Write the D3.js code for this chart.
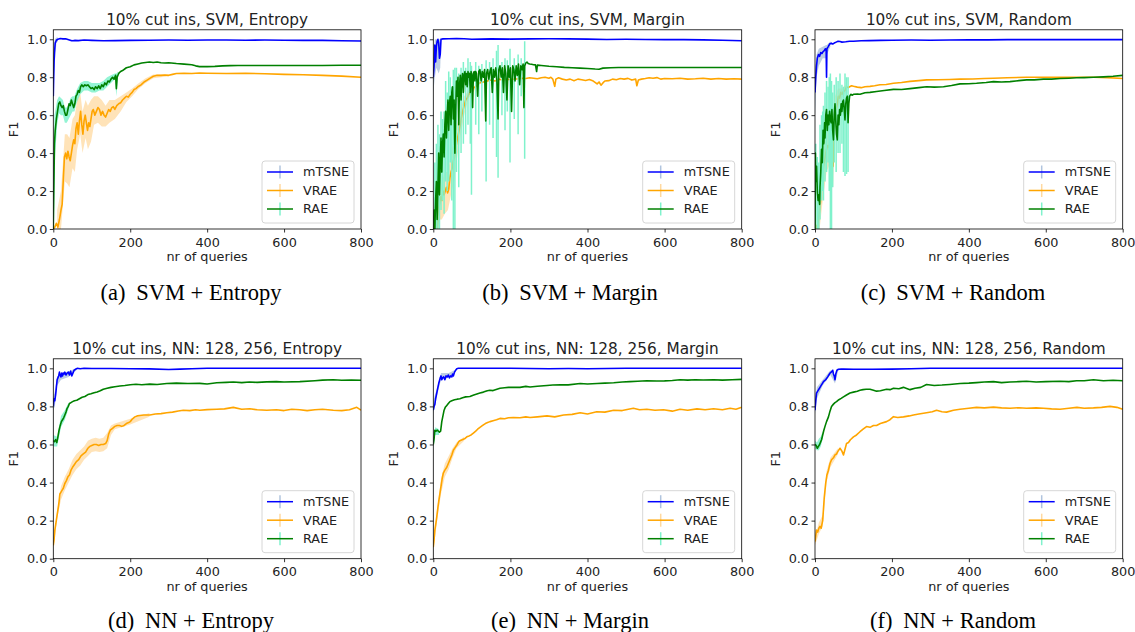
<!DOCTYPE html>
<html><head><meta charset="utf-8">
<script src="https://cdn.jsdelivr.net/npm/d3@7"></script>
<style>body{margin:0;background:#fff}svg{display:block}</style>
</head><body><svg id="c" width="1135" height="632"></svg>
<script>
// ---------------- DATA ----------------
const xTicks = [0, 200, 400, 600, 800];
const yTicks = [0, 0.2, 0.4, 0.6, 0.8, 1.0];
const seriesNames = ["mTSNE", "VRAE", "RAE"];
const panelTitles = ["10% cut ins, SVM, Entropy", "10% cut ins, SVM, Margin", "10% cut ins, SVM, Random",
  "10% cut ins, NN: 128, 256, Entropy", "10% cut ins, NN: 128, 256, Margin", "10% cut ins, NN: 128, 256, Random"];
const captionTags = ["(a)", "(b)", "(c)", "(d)", "(e)", "(f)"];
const captionTexts = ["SVM + Entropy", "SVM + Margin", "SVM + Random", "NN + Entropy", "NN + Margin", "NN + Random"];

// (a) SVM + Entropy
const aMtsne = [[0,0.70],[1,0.80],[2,0.88],[3,0.93],[5,0.98],[8,0.995],[12,1.0],[18,1.004],[25,1.002],[32,1.003],[40,0.998],[48,0.992],[55,0.994],[65,0.993],[80,0.996],[100,0.994],[130,0.992],[160,0.993],[200,0.994],[250,0.995],[300,0.996],[350,0.995],[400,0.996],[450,0.996],[500,0.995],[550,0.996],[600,0.995],[650,0.994],[700,0.994],[750,0.992],[800,0.991]];
const aMtsneErr = [[0,0.55,0.85],[2,0.78,0.98],[4,0.88,1.0],[8,0.98,1.01],[12,0.99,1.01]];
const aVrae = [[0,0.0],[4,0.01],[8,0.03],[12,0.01],[16,0.05],[20,0.1],[23,0.13],[26,0.26],[29,0.38],[32,0.40],[35,0.37],[38,0.41],[41,0.38],[44,0.36],[47,0.40],[50,0.44],[53,0.47],[56,0.45],[59,0.53],[62,0.56],[65,0.50],[68,0.57],[71,0.62],[74,0.55],[77,0.50],[80,0.57],[83,0.60],[86,0.56],[89,0.52],[92,0.56],[95,0.54],[98,0.58],[101,0.62],[104,0.63],[108,0.60],[112,0.62],[116,0.64],[120,0.63],[124,0.60],[128,0.62],[132,0.60],[136,0.59],[140,0.61],[144,0.63],[148,0.62],[152,0.64],[156,0.645],[160,0.63],[165,0.65],[170,0.66],[175,0.665],[180,0.68],[185,0.69],[190,0.70],[195,0.695],[200,0.71],[205,0.72],[210,0.735],[215,0.74],[220,0.75],[228,0.76],[236,0.775],[244,0.785],[252,0.795],[260,0.805],[270,0.81],[280,0.81],[290,0.812],[300,0.81],[310,0.815],[320,0.82],[340,0.821],[360,0.82],[380,0.822],[400,0.821],[450,0.82],[500,0.821],[550,0.818],[600,0.815],[650,0.813],[700,0.81],[750,0.806],[800,0.80]];
const aVraeErr = [[10,0.0,0.1],[20,0.0,0.2],[26,0.15,0.38],[30,0.25,0.5],[36,0.24,0.5],[42,0.22,0.48],[50,0.32,0.58],[56,0.3,0.6],[62,0.42,0.68],[70,0.5,0.72],[76,0.40,0.62],[84,0.48,0.68],[90,0.42,0.65],[98,0.46,0.68],[106,0.55,0.70],[116,0.56,0.70],[126,0.54,0.68],[136,0.54,0.65],[146,0.56,0.68],[160,0.58,0.68],[175,0.62,0.70],[190,0.67,0.72],[205,0.70,0.74],[220,0.735,0.765],[240,0.77,0.795],[260,0.795,0.815],[300,0.805,0.815]];
const aRae = [[0,0.0],[1,0.15],[2,0.30],[3,0.45],[5,0.52],[8,0.58],[11,0.62],[14,0.66],[17,0.67],[20,0.65],[23,0.64],[26,0.65],[29,0.62],[32,0.60],[35,0.60],[38,0.63],[41,0.66],[44,0.65],[47,0.68],[50,0.66],[53,0.64],[56,0.66],[59,0.70],[62,0.71],[65,0.73],[68,0.72],[71,0.75],[74,0.76],[78,0.75],[82,0.76],[86,0.755],[90,0.76],[94,0.75],[98,0.74],[102,0.745],[106,0.735],[110,0.75],[114,0.74],[118,0.755],[122,0.74],[126,0.76],[130,0.75],[134,0.77],[138,0.76],[142,0.78],[146,0.775],[150,0.79],[154,0.80],[158,0.79],[162,0.81],[164,0.74],[166,0.80],[170,0.82],[175,0.83],[180,0.835],[190,0.85],[200,0.855],[210,0.865],[220,0.87],[230,0.875],[240,0.878],[250,0.88],[260,0.878],[270,0.88],[280,0.876],[290,0.875],[300,0.876],[320,0.872],[340,0.869],[360,0.866],[370,0.86],[380,0.856],[400,0.856],[420,0.857],[440,0.86],[460,0.861],[480,0.862],[500,0.862],[550,0.862],[600,0.862],[650,0.862],[700,0.862],[750,0.863],[800,0.863]];
const aRaeErr = [[1,0.0,0.3],[3,0.2,0.6],[5,0.4,0.62],[10,0.55,0.68],[15,0.61,0.70],[20,0.6,0.69],[25,0.6,0.68],[30,0.56,0.64],[35,0.56,0.64],[40,0.58,0.66],[45,0.60,0.69],[50,0.62,0.70],[55,0.62,0.70],[60,0.66,0.73],[70,0.71,0.77],[80,0.73,0.78],[90,0.73,0.78],[100,0.72,0.77],[110,0.72,0.77],[120,0.73,0.77],[130,0.73,0.78],[140,0.75,0.80],[150,0.77,0.81],[160,0.79,0.82],[164,0.70,0.82],[168,0.80,0.83]];

// (b) SVM + Margin
const bMtsne = [[0,0.80],[2,0.86],[4,0.97],[6,0.88],[8,0.96],[10,0.99],[12,1.0],[14,0.98],[16,0.90],[18,0.92],[20,1.0],[25,1.002],[40,1.003],[60,1.004],[80,1.003],[100,1.0],[150,1.002],[200,1.001],[250,1.002],[300,1.003],[350,1.002],[400,1.001],[450,0.999],[500,1.0],[550,0.999],[600,0.998],[650,0.998],[700,0.997],[750,0.995],[800,0.992]];
const bMtsneErr = [[0,0.72,0.9],[4,0.80,1.0],[8,0.85,1.0],[14,0.82,1.0],[18,0.85,1.0],[20,0.97,1.01]];
const bVrae = [[0,0.0],[4,0.0],[8,0.05],[11,0.0],[13,0.10],[16,0.13],[19,0.17],[22,0.15],[25,0.20],[28,0.18],[31,0.20],[34,0.22],[37,0.19],[40,0.21],[43,0.27],[46,0.30],[49,0.32],[52,0.36],[55,0.38],[58,0.42],[61,0.46],[64,0.49],[67,0.52],[70,0.55],[73,0.59],[76,0.62],[80,0.65],[84,0.68],[88,0.69],[92,0.71],[96,0.72],[100,0.73],[105,0.745],[110,0.75],[115,0.76],[120,0.77],[130,0.775],[140,0.78],[150,0.785],[160,0.78],[170,0.79],[180,0.785],[190,0.79],[200,0.788],[210,0.79],[220,0.792],[230,0.795],[240,0.793],[250,0.797],[260,0.795],[270,0.792],[280,0.797],[290,0.80],[300,0.795],[305,0.80],[310,0.79],[315,0.752],[318,0.79],[325,0.797],[335,0.79],[345,0.785],[355,0.79],[365,0.782],[375,0.79],[385,0.787],[395,0.783],[405,0.788],[415,0.78],[425,0.765],[430,0.775],[435,0.758],[440,0.77],[445,0.78],[455,0.782],[465,0.79],[475,0.787],[485,0.793],[495,0.79],[505,0.794],[515,0.785],[525,0.79],[528,0.755],[532,0.785],[540,0.79],[550,0.793],[560,0.797],[570,0.795],[580,0.798],[590,0.79],[600,0.793],[620,0.792],[640,0.795],[660,0.79],[680,0.792],[700,0.795],[720,0.79],[740,0.793],[760,0.79],[780,0.792],[800,0.79]];
const bVraeErr = [[10,0.0,0.12],[16,0.05,0.2],[22,0.05,0.25],[30,0.08,0.3],[38,0.1,0.3],[46,0.18,0.4],[54,0.25,0.48],[62,0.38,0.55],[70,0.48,0.62],[80,0.6,0.7],[92,0.69,0.73],[110,0.74,0.76]];
const bRae = [[0,0.0],[2,0.1],[4,0.0],[6,0.15],[8,0.25],[10,0.05],[12,0.22],[14,0.40],[16,0.18],[18,0.35],[20,0.48],[22,0.30],[24,0.45],[26,0.50],[28,0.38],[30,0.55],[32,0.62],[34,0.48],[36,0.60],[38,0.68],[40,0.52],[42,0.66],[44,0.70],[46,0.55],[48,0.72],[50,0.75],[52,0.58],[54,0.68],[56,0.40],[58,0.62],[60,0.78],[62,0.70],[64,0.80],[66,0.55],[68,0.76],[70,0.81],[72,0.68],[74,0.79],[76,0.82],[78,0.72],[80,0.81],[82,0.83],[84,0.76],[86,0.82],[88,0.75],[90,0.83],[92,0.80],[94,0.82],[96,0.72],[98,0.83],[100,0.81],[102,0.64],[104,0.82],[106,0.83],[108,0.78],[110,0.83],[112,0.82],[115,0.70],[118,0.83],[121,0.84],[124,0.78],[127,0.83],[130,0.80],[133,0.84],[136,0.57],[138,0.82],[141,0.84],[144,0.79],[147,0.83],[150,0.85],[153,0.72],[156,0.84],[159,0.80],[162,0.85],[165,0.78],[168,0.58],[170,0.84],[173,0.86],[176,0.80],[179,0.85],[182,0.72],[185,0.86],[188,0.82],[191,0.68],[194,0.86],[197,0.80],[200,0.85],[203,0.62],[206,0.86],[209,0.84],[212,0.78],[215,0.86],[218,0.81],[221,0.87],[224,0.76],[227,0.86],[230,0.84],[233,0.87],[235,0.64],[237,0.86],[240,0.875],[243,0.88],[246,0.872],[250,0.87],[255,0.868],[260,0.866],[265,0.865],[268,0.83],[270,0.864],[280,0.862],[300,0.858],[320,0.855],[340,0.852],[360,0.85],[380,0.848],[400,0.846],[420,0.843],[430,0.842],[440,0.848],[460,0.85],[480,0.851],[500,0.851],[550,0.851],[600,0.851],[650,0.851],[700,0.851],[750,0.851],[800,0.851]];
const bRaeSpikes = [[4,0.0,0.35],[8,0.0,0.45],[12,0.0,0.55],[16,0.0,0.5],[20,0.1,0.62],[24,0.15,0.58],[28,0.08,0.62],[32,0.25,0.78],[36,0.2,0.72],[40,0.25,0.83],[44,0.35,0.80],[48,0.15,0.75],[52,0.0,0.84],[56,0.0,0.85],[60,0.3,0.85],[66,0.22,0.82],[72,0.4,0.85],[78,0.45,0.88],[84,0.5,0.85],[90,0.55,0.9],[96,0.45,0.88],[99,0.18,0.86],[110,0.55,0.88],[118,0.5,0.86],[126,0.62,0.87],[137,0.25,0.89],[146,0.55,0.88],[155,0.48,0.90],[164,0.38,0.94],[168,0.27,0.97],[178,0.6,0.88],[186,0.52,0.9],[192,0.62,0.89],[199,0.35,0.95],[210,0.58,0.90],[220,0.5,0.92],[228,0.7,0.90],[237,0.37,0.99]];

// (c) SVM + Random
const cMtsne = [[0,0.72],[2,0.80],[4,0.86],[6,0.90],[9,0.92],[12,0.91],[15,0.93],[18,0.925],[21,0.935],[24,0.94],[27,0.95],[29,0.94],[30,0.80],[31,0.95],[34,0.96],[38,0.975],[42,0.98],[46,0.975],[50,0.98],[55,0.985],[60,0.99],[65,0.988],[70,0.985],[80,0.987],[90,0.99],[100,0.99],[120,0.992],[140,0.993],[170,0.994],[200,0.995],[250,0.996],[300,0.995],[350,0.996],[400,0.997],[450,0.997],[500,0.998],[550,0.998],[600,0.998],[650,0.998],[700,0.998],[750,0.998],[800,0.998]];
const cMtsneErr = [[0,0.6,0.85],[4,0.8,0.92],[10,0.86,0.95],[20,0.9,0.96],[29,0.9,0.97],[30,0.75,0.97],[31,0.92,0.97],[40,0.96,0.99]];
const cVrae = [[0,0.0],[3,0.02],[6,0.0],[9,0.05],[12,0.10],[14,0.14],[17,0.22],[20,0.28],[22,0.33],[25,0.36],[28,0.40],[30,0.42],[33,0.44],[36,0.43],[39,0.46],[42,0.47],[45,0.44],[47,0.33],[49,0.50],[52,0.62],[55,0.63],[58,0.66],[61,0.70],[64,0.69],[67,0.72],[70,0.71],[74,0.725],[78,0.73],[82,0.75],[86,0.745],[90,0.75],[95,0.755],[100,0.752],[110,0.748],[120,0.745],[130,0.75],[143,0.752],[155,0.755],[169,0.76],[185,0.762],[204,0.768],[225,0.772],[247,0.778],[270,0.782],[290,0.786],[320,0.787],[350,0.788],[377,0.79],[410,0.791],[440,0.793],[464,0.795],[500,0.797],[550,0.80],[600,0.80],[637,0.80],[680,0.80],[724,0.80],[760,0.798],[800,0.793]];
const cVraeErr = [[5,0.0,0.1],[12,0.0,0.2],[20,0.15,0.40],[30,0.3,0.52],[40,0.35,0.56],[47,0.22,0.45],[52,0.52,0.70],[60,0.64,0.74],[70,0.69,0.74],[80,0.72,0.76]];
const cRae = [[0,0.0],[1,0.40],[2,0.25],[4,0.33],[6,0.20],[8,0.15],[10,0.18],[12,0.13],[13,0.22],[15,0.30],[17,0.42],[19,0.35],[21,0.52],[23,0.45],[25,0.56],[26,0.48],[28,0.60],[30,0.63],[32,0.52],[34,0.60],[36,0.55],[38,0.62],[40,0.575],[42,0.56],[44,0.63],[46,0.52],[48,0.47],[50,0.60],[52,0.66],[54,0.57],[56,0.50],[58,0.47],[60,0.60],[62,0.55],[64,0.63],[66,0.60],[68,0.66],[70,0.62],[72,0.67],[74,0.68],[76,0.63],[78,0.575],[80,0.66],[82,0.69],[84,0.70],[86,0.56],[88,0.66],[90,0.70],[93,0.71],[97,0.705],[100,0.71],[110,0.712],[117,0.71],[130,0.718],[143,0.72],[160,0.725],[180,0.73],[204,0.736],[225,0.735],[247,0.74],[270,0.745],[290,0.75],[310,0.748],[334,0.75],[355,0.756],[377,0.765],[400,0.766],[420,0.768],[445,0.772],[464,0.777],[485,0.775],[507,0.777],[530,0.782],[550,0.786],[570,0.786],[594,0.79],[615,0.79],[637,0.793],[660,0.795],[680,0.797],[700,0.798],[724,0.80],[750,0.802],[775,0.805],[800,0.81]];
const cRaeSpikes = [[2,0.0,0.45],[6,0.0,0.38],[10,0.0,0.35],[13,0.05,0.55],[17,0.15,0.6],[20,0.2,0.62],[22,0.15,0.65],[26,0.25,0.72],[30,0.3,0.78],[34,0.35,0.75],[37,0.2,0.8],[40,0.0,0.82],[43,0.0,0.78],[46,0.22,0.72],[50,0.35,0.76],[55,0.3,0.80],[60,0.4,0.78],[65,0.4,0.82],[70,0.45,0.76],[74,0.3,0.75],[78,0.28,0.82],[82,0.29,0.80],[86,0.30,0.80]];

// (d) NN + Entropy
const dMtsne = [[0,0.80],[2,0.84],[4,0.83],[6,0.86],[8,0.90],[10,0.94],[12,0.95],[14,0.96],[16,0.98],[18,0.965],[20,0.955],[22,0.975],[24,0.96],[26,0.975],[28,0.97],[30,0.98],[33,0.965],[36,0.975],[39,0.98],[42,0.965],[45,0.985],[48,0.96],[51,0.975],[54,0.99],[58,0.995],[62,1.0],[70,0.998],[80,1.0],[100,0.999],[150,0.999],[200,0.998],[250,0.997],[300,0.994],[330,0.996],[360,0.998],[400,1.0],[450,1.0],[500,1.0],[600,1.0],[700,1.0],[800,1.0]];
const dMtsneErr = [[0,0.78,0.84],[4,0.80,0.88],[10,0.91,0.96],[20,0.94,0.97],[40,0.955,0.985],[60,0.99,1.0]];
const dVrae = [[0,0.07],[2,0.10],[4,0.15],[7,0.19],[10,0.23],[13,0.27],[15,0.30],[17,0.34],[20,0.35],[23,0.36],[26,0.37],[30,0.395],[34,0.41],[38,0.43],[42,0.44],[46,0.465],[50,0.48],[55,0.495],[60,0.51],[66,0.52],[72,0.54],[78,0.55],[84,0.56],[90,0.58],[95,0.59],[100,0.595],[106,0.60],[112,0.60],[118,0.595],[124,0.60],[130,0.60],[136,0.605],[140,0.62],[144,0.655],[148,0.675],[154,0.685],[160,0.695],[166,0.70],[172,0.70],[178,0.695],[184,0.70],[190,0.71],[196,0.715],[200,0.72],[206,0.735],[212,0.745],[218,0.75],[225,0.752],[235,0.755],[251,0.755],[265,0.76],[280,0.762],[295,0.767],[310,0.77],[325,0.776],[338,0.78],[355,0.778],[370,0.782],[381,0.78],[400,0.783],[425,0.785],[445,0.787],[468,0.795],[490,0.785],[511,0.788],[530,0.782],[555,0.78],[580,0.782],[600,0.778],[620,0.785],[641,0.782],[660,0.778],[680,0.782],[700,0.785],[728,0.78],[750,0.778],[770,0.782],[789,0.795],[800,0.78]];
const dVraeErr = [[0,0.05,0.09],[10,0.21,0.25],[20,0.31,0.38],[30,0.36,0.43],[40,0.40,0.47],[50,0.44,0.52],[60,0.47,0.55],[70,0.49,0.57],[80,0.52,0.59],[90,0.54,0.62],[100,0.56,0.63],[110,0.565,0.635],[120,0.56,0.63],[130,0.565,0.635],[140,0.58,0.66],[150,0.65,0.70],[160,0.68,0.71],[200,0.705,0.735],[250,0.745,0.765]];
const dRae = [[0,0.62],[3,0.615],[6,0.625],[9,0.61],[12,0.64],[15,0.675],[18,0.70],[21,0.72],[24,0.73],[27,0.74],[30,0.755],[33,0.77],[36,0.79],[39,0.80],[42,0.815],[46,0.82],[50,0.825],[55,0.83],[61,0.832],[68,0.84],[75,0.848],[82,0.852],[90,0.862],[98,0.866],[106,0.872],[114,0.876],[122,0.882],[130,0.89],[140,0.895],[150,0.90],[160,0.903],[173,0.907],[186,0.91],[200,0.914],[215,0.916],[230,0.914],[251,0.917],[270,0.915],[295,0.92],[320,0.922],[350,0.92],[381,0.921],[400,0.918],[425,0.924],[450,0.926],[468,0.928],[490,0.925],[510,0.928],[530,0.926],[555,0.929],[580,0.93],[600,0.928],[641,0.93],[680,0.935],[700,0.938],[728,0.94],[750,0.937],[775,0.938],[800,0.937]];
const dRaeErr = [[0,0.59,0.65],[10,0.59,0.64],[20,0.69,0.75],[30,0.73,0.78],[40,0.79,0.82]];

// (e) NN + Margin
const eMtsne = [[0,0.78],[2,0.80],[4,0.81],[6,0.84],[8,0.86],[10,0.88],[12,0.90],[14,0.92],[16,0.935],[18,0.95],[20,0.96],[22,0.94],[24,0.95],[27,0.955],[30,0.94],[33,0.96],[36,0.955],[39,0.965],[42,0.95],[45,0.96],[48,0.955],[50,0.97],[52,0.96],[55,0.98],[58,0.99],[61,0.998],[65,1.0],[80,1.0],[100,1.0],[200,1.0],[250,0.999],[300,0.998],[350,0.999],[400,0.998],[450,0.999],[500,1.0],[600,1.0],[700,1.0],[800,1.0]];
const eMtsneErr = [[0,0.76,0.83],[10,0.86,0.9],[20,0.94,0.975],[40,0.95,0.975],[55,0.97,0.99]];
const eVrae = [[0,0.06],[2,0.10],[4,0.15],[7,0.19],[9,0.22],[12,0.27],[14,0.30],[17,0.34],[20,0.38],[23,0.42],[26,0.45],[30,0.465],[35,0.48],[39,0.50],[43,0.52],[48,0.545],[52,0.57],[57,0.585],[62,0.60],[66,0.615],[69,0.62],[75,0.625],[81,0.63],[87,0.64],[93,0.645],[98,0.65],[104,0.66],[110,0.67],[115,0.68],[121,0.69],[128,0.70],[135,0.71],[141,0.715],[147,0.72],[155,0.725],[164,0.73],[173,0.737],[185,0.735],[195,0.74],[208,0.742],[225,0.74],[240,0.745],[251,0.742],[270,0.745],[295,0.75],[315,0.745],[338,0.755],[360,0.758],[381,0.767],[400,0.76],[424,0.772],[445,0.77],[468,0.78],[490,0.778],[519,0.79],[535,0.782],[554,0.785],[575,0.78],[597,0.782],[620,0.775],[640,0.785],[660,0.78],[684,0.787],[705,0.782],[727,0.788],[750,0.782],[770,0.79],[785,0.785],[800,0.795]];
const eVraeErr = [[0,0.04,0.08],[10,0.2,0.26],[20,0.34,0.42],[30,0.43,0.5],[40,0.47,0.54],[50,0.53,0.58],[60,0.58,0.61],[80,0.62,0.64]];
const eRae = [[0,0.60],[2,0.63],[4,0.675],[7,0.67],[10,0.675],[13,0.67],[16,0.665],[19,0.67],[22,0.72],[25,0.75],[28,0.78],[31,0.795],[35,0.805],[39,0.815],[43,0.825],[48,0.83],[55,0.835],[62,0.838],[69,0.84],[76,0.845],[84,0.85],[95,0.852],[105,0.86],[113,0.865],[121,0.87],[130,0.875],[140,0.882],[147,0.885],[155,0.883],[165,0.89],[173,0.895],[185,0.898],[195,0.90],[208,0.90],[225,0.90],[240,0.905],[251,0.902],[270,0.906],[295,0.91],[310,0.912],[330,0.914],[350,0.913],[381,0.92],[400,0.918],[425,0.92],[445,0.922],[468,0.924],[490,0.928],[510,0.93],[530,0.932],[554,0.935],[580,0.933],[600,0.934],[620,0.936],[640,0.94],[660,0.938],[680,0.94],[700,0.939],[727,0.94],[750,0.938],[775,0.94],[800,0.942]];
const eRaeErr = [[0,0.58,0.62],[5,0.65,0.69],[15,0.65,0.68]];

// (f) NN + Random
const fMtsne = [[0,0.78],[2,0.83],[4,0.87],[7,0.88],[10,0.89],[13,0.90],[16,0.91],[19,0.92],[22,0.93],[25,0.935],[28,0.94],[30,0.947],[33,0.955],[36,0.965],[39,0.975],[42,0.98],[44,0.985],[46,0.99],[48,0.97],[50,0.96],[52,0.94],[54,0.97],[57,0.99],[61,0.995],[68,0.996],[74,0.996],[100,0.995],[150,0.995],[200,0.996],[250,0.998],[300,1.0],[400,1.0],[500,1.0],[600,1.0],[700,1.0],[800,1.0]];
const fMtsneErr = [[0,0.76,0.82],[5,0.84,0.9],[20,0.91,0.94],[40,0.965,0.99],[52,0.92,0.96],[60,0.985,1.0]];
const fVrae = [[0,0.09],[2,0.12],[4,0.15],[7,0.14],[10,0.16],[13,0.17],[16,0.16],[18,0.18],[20,0.20],[22,0.26],[24,0.32],[26,0.36],[28,0.40],[31,0.44],[35,0.465],[39,0.50],[43,0.52],[48,0.53],[52,0.545],[56,0.55],[60,0.565],[65,0.58],[70,0.565],[74,0.545],[78,0.575],[82,0.605],[87,0.61],[92,0.625],[100,0.64],[108,0.65],[117,0.667],[125,0.68],[134,0.694],[143,0.69],[152,0.70],[160,0.70],[170,0.71],[186,0.72],[195,0.73],[204,0.746],[215,0.742],[230,0.745],[245,0.75],[256,0.755],[270,0.76],[290,0.767],[305,0.772],[316,0.78],[330,0.772],[342,0.77],[360,0.78],[377,0.785],[400,0.79],[420,0.795],[440,0.792],[464,0.796],[485,0.792],[507,0.79],[530,0.793],[550,0.79],[575,0.792],[594,0.79],[615,0.787],[637,0.785],[660,0.79],[681,0.795],[700,0.79],[724,0.792],[745,0.795],[767,0.80],[785,0.795],[800,0.785]];
const fVraeErr = [[0,0.07,0.11],[10,0.13,0.19],[20,0.17,0.23],[30,0.40,0.46],[40,0.48,0.53],[60,0.55,0.58]];
const fRae = [[0,0.60],[3,0.595],[6,0.58],[9,0.59],[12,0.60],[15,0.615],[17,0.625],[20,0.65],[23,0.675],[26,0.695],[30,0.72],[35,0.745],[39,0.775],[43,0.80],[48,0.812],[52,0.82],[56,0.825],[62,0.835],[68,0.842],[74,0.85],[82,0.86],[91,0.87],[100,0.875],[110,0.88],[117,0.885],[125,0.888],[133,0.89],[143,0.89],[152,0.885],[160,0.88],[170,0.882],[186,0.89],[195,0.888],[204,0.895],[218,0.893],[230,0.90],[240,0.893],[247,0.888],[260,0.895],[275,0.90],[290,0.915],[310,0.91],[330,0.912],[350,0.915],[377,0.92],[400,0.922],[420,0.925],[440,0.928],[464,0.93],[485,0.925],[507,0.928],[530,0.93],[550,0.932],[575,0.928],[600,0.93],[637,0.932],[660,0.93],[680,0.935],[700,0.935],[724,0.94],[750,0.935],[775,0.937],[800,0.935]];
const fRaeErr = [[0,0.58,0.62],[5,0.57,0.61],[10,0.57,0.63],[15,0.59,0.64],[20,0.63,0.67]];

// ---------------- STYLE / LAYOUT ----------------
const lineColors = ["#0000ff", "#ffa500", "#008000"];
const errColors = ["#b0c4de", "#ffd9a0", "#80f2cc"];
const panels = [
  {series: [aMtsne, aVrae, aRae], bands: [aMtsneErr, aVraeErr, aRaeErr], spikes: [null, null, null]},
  {series: [bMtsne, bVrae, bRae], bands: [bMtsneErr, bVraeErr, null], spikes: [null, null, bRaeSpikes]},
  {series: [cMtsne, cVrae, cRae], bands: [cMtsneErr, cVraeErr, null], spikes: [null, null, cRaeSpikes]},
  {series: [dMtsne, dVrae, dRae], bands: [dMtsneErr, dVraeErr, dRaeErr], spikes: [null, null, null]},
  {series: [eMtsne, eVrae, eRae], bands: [eMtsneErr, eVraeErr, eRaeErr], spikes: [null, null, null]},
  {series: [fMtsne, fVrae, fRae], bands: [fMtsneErr, fVraeErr, fRaeErr], spikes: [null, null, null]}
];
const colPos = [[53.3, 361], [433.3, 741.7], [815, 1122.7]];
const rowPos = [[229, 29.8], [558.7, 358.8]];
const captionY = [300, 628];
const captionX = [191, 570, 953];
const FONT = "'DejaVu Sans', sans-serif";
const tickFs = 12.8;

const svg = d3.select("#c");

panels.forEach((p, i) => {
  const col = i % 3, row = Math.floor(i / 3);
  const [L, R] = colPos[col];
  const [B, T] = rowPos[row];
  const x = d3.scaleLinear().domain([0, 800]).range([L, R]);
  const y = d3.scaleLinear().domain([0, 1.05]).range([B, T]);
  const g = svg.append("g");
  const cid = "clip" + i;
  svg.append("clipPath").attr("id", cid).append("rect")
    .attr("x", L).attr("y", T).attr("width", R - L).attr("height", B - T);
  const plot = g.append("g").attr("clip-path", `url(#${cid})`);

  const line = d3.line().x(d => x(d[0])).y(d => y(d[1]));
  const area = d3.area().x(d => x(d[0])).y0(d => y(d[1])).y1(d => y(d[2]));

  p.series.forEach((s, k) => {
    if (p.bands[k]) {
      plot.append("path").datum(p.bands[k]).attr("d", area)
        .attr("fill", errColors[k]).attr("fill-opacity", k === 1 ? 0.75 : 0.85);
    }
    if (p.spikes[k]) {
      plot.selectAll(null).data(p.spikes[k]).enter().append("line")
        .attr("x1", d => x(d[0])).attr("x2", d => x(d[0]))
        .attr("y1", d => y(d[1])).attr("y2", d => y(d[2]))
        .attr("stroke", errColors[k]).attr("stroke-width", 1.5);
    }
    plot.append("path").datum(s).attr("d", line)
      .attr("fill", "none").attr("stroke", lineColors[k])
      .attr("stroke-width", 1.6).attr("stroke-linejoin", "round");
  });

  // frame
  g.append("rect").attr("x", L).attr("y", T).attr("width", R - L).attr("height", B - T)
    .attr("fill", "none").attr("stroke", "#000").attr("stroke-width", 0.8);

  // axes
  const ax = g.append("g").attr("transform", `translate(0,${B})`)
    .call(d3.axisBottom(x).tickValues(xTicks).tickFormat(d3.format("d")).tickSize(3.5).tickSizeOuter(0).tickPadding(5));
  const ay = g.append("g").attr("transform", `translate(${L},0)`)
    .call(d3.axisLeft(y).tickValues(yTicks).tickFormat(d3.format(".1f")).tickSize(3.5).tickSizeOuter(0).tickPadding(2.5));
  [ax, ay].forEach(a => {
    a.select(".domain").remove();
    a.selectAll("line").attr("stroke", "#000").attr("stroke-width", 0.8);
    a.selectAll("text").attr("font-family", FONT).attr("font-size", tickFs).attr("fill", "#222");
  });

  // title
  g.append("text").attr("x", (L + R) / 2).attr("y", T - 5).attr("text-anchor", "middle")
    .attr("font-family", FONT).attr("font-size", 15.3).attr("fill", "#222").text(panelTitles[i]);
  // axis labels
  g.append("text").attr("x", (L + R) / 2).attr("y", B + 32).attr("text-anchor", "middle")
    .attr("font-family", FONT).attr("font-size", tickFs).attr("fill", "#222").text("nr of queries");
  g.append("text").attr("transform", `translate(${L - 35},${(B + T) / 2}) rotate(-90)`)
    .attr("text-anchor", "middle").attr("font-family", FONT).attr("font-size", tickFs)
    .attr("fill", "#222").text("F1");

  // legend
  const lw = 92, lh = 62;
  const lx = R - 7 - lw, ly = B - 6 - lh;
  const lg = g.append("g");
  lg.append("rect").attr("x", lx).attr("y", ly).attr("width", lw).attr("height", lh)
    .attr("rx", 3).attr("fill", "#fff").attr("fill-opacity", 0.8)
    .attr("stroke", "#cccccc").attr("stroke-width", 0.8);
  seriesNames.forEach((nm, k) => {
    const yy = ly + 11 + k * 18.5;
    lg.append("line").attr("x1", lx + 18).attr("x2", lx + 18).attr("y1", yy - 6.5).attr("y2", yy + 6.5)
      .attr("stroke", errColors[k]).attr("stroke-width", 1.5);
    lg.append("line").attr("x1", lx + 5).attr("x2", lx + 31).attr("y1", yy).attr("y2", yy)
      .attr("stroke", lineColors[k]).attr("stroke-width", 1.5);
    lg.append("text").attr("x", lx + 41).attr("y", yy).attr("dy", "0.35em")
      .attr("font-family", FONT).attr("font-size", tickFs).attr("fill", "#222").text(nm);
  });

  // caption
  const cap = svg.append("text").attr("x", captionX[col]).attr("y", captionY[row])
    .attr("text-anchor", "middle").attr("font-family", "'Liberation Serif', 'Times New Roman', serif")
    .attr("font-size", 22.5).attr("fill", "#000");
  cap.append("tspan").text(captionTags[i]);
  cap.append("tspan").attr("dx", 5).text(" " + captionTexts[i]);
});
</script></body></html>
